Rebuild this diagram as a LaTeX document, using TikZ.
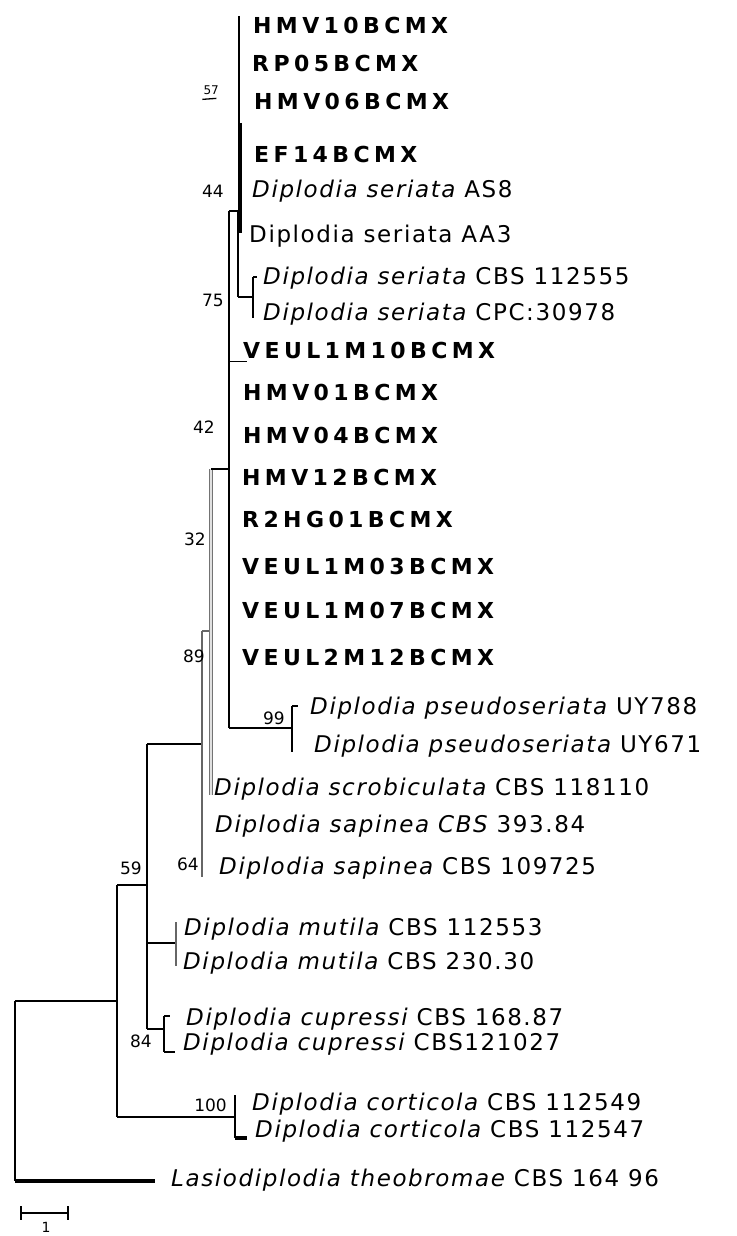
\documentclass[tikz,border=0pt]{standalone}
\usepackage{fontspec}
\setmainfont{DejaVu Sans}
\newfontfamily\isofont[LetterSpace=20]{DejaVu Sans}
\newfontfamily\taxfont[LetterSpace=7]{DejaVu Sans}
\usetikzlibrary{calc}

\begin{document}
\begin{tikzpicture}[
  x=1pt, y=-1pt,
  isolate/.style={anchor=base west, inner sep=0pt,
    font=\isofont\fontsize{22}{24}\selectfont\bfseries},
  taxon/.style={anchor=base west, inner sep=0pt,
    font=\taxfont\fontsize{23}{25}\selectfont},
  boot/.style={anchor=base east, inner sep=0pt,
    font=\fontsize{17}{19}\selectfont},
  branch/.style={line width=1.6pt},
  heavy/.style={line width=3.4pt},
  pale/.style={line width=1.4pt, black!60},
  hollow/.style={line width=1.3pt, draw=black!55, double=black!12,
    double distance=1.6pt}
]
\useasboundingbox (0,0) rectangle (736,1236);

% Internal nodes
\coordinate (r-t) at (15,1001);   \coordinate (r-b) at (15,1181);
\coordinate (n1-t) at (117,885);  \coordinate (n1-b) at (117,1117);
\coordinate (n2-t) at (147,744);  \coordinate (n2-b) at (147,1029);
\coordinate (n3-t) at (202,631);  \coordinate (n3-b) at (202,877);
\coordinate (n4-t) at (211,469);  \coordinate (n4-b) at (211,795);
\coordinate (n5-t) at (229,211);  \coordinate (n5-b) at (229,728);
\coordinate (n6-t) at (238,211);  \coordinate (n6-b) at (238,297);
\coordinate (n7-t) at (240,123);  \coordinate (n7-b) at (240,233);
\coordinate (n8-t) at (239,16);
\coordinate (ser) at (253,297);   \coordinate (ser-t) at (253,277);
\coordinate (ser-b) at (253,318);
\coordinate (ps) at (292,728);    \coordinate (ps-t) at (292,706);
\coordinate (ps-b) at (292,752);
\coordinate (mut) at (176,943);   \coordinate (mut-t) at (176,922);
\coordinate (mut-b) at (176,966);
\coordinate (cup) at (164,1029);  \coordinate (cup-t) at (164,1016);
\coordinate (cup-b) at (164,1052);
\coordinate (cor) at (235,1117);  \coordinate (cor-t) at (235,1095);
\coordinate (cor-b) at (235,1138);
\coordinate (lasio-tip) at (155,1181);
\coordinate (veul-tip) at (247,361);

% Root and outgroup
\draw[branch] (r-t) -- (r-b);
\draw[heavy] (r-b) -- (lasio-tip);
\draw[branch] (r-t) -- (r-t -| n1-t);
\draw[branch] (n1-t) -- (n1-b);

% Corticola
\draw[branch] (n1-b) -- (cor);
\draw[branch] (cor-t) -- (cor-b);
\draw[heavy] (cor-b) -- ++(12,0);

% Mutila and cupressi
\draw[branch] (n1-t) -- (n1-t -| n2-t);
\draw[branch] (n2-t) -- (n2-b);
\draw[line width=2.6pt] (mut -| n2-t) -- (mut);
\draw[line width=2.2pt, black!60] (mut-t) -- (mut-b);
\draw[branch] (n2-b) -- (cup);
\draw[branch] (cup-t) -- (cup-b);
\draw[branch] (cup-t) -- ++(6,0);
\draw[branch] (cup-b) -- ++(11,0);

% Sapinea / scrobiculata
\draw[branch] (n2-t) -- (n2-t -| n3-t);
\draw[pale] (n3-t) -- (n3-b);
\draw[pale] (n3-t) -- (n3-t -| n4-t);
\draw[hollow] (n4-t) -- (n4-b);

% Seriata clade
\draw[branch] (n4-t) -- (n4-t -| n5-t);
\draw[line width=2.6pt] (n5-t) -- (n5-b);
\draw[branch] (n5-t) -- (n6-t);
\draw[branch] (n6-t) -- (n6-b);
\draw[branch] (n6-b) -- (ser);
\draw[branch] (ser-t) -- (ser-b);
\draw[branch] (ser-t) -- ++(4,0);
\draw[branch] (n8-t) -- (n8-t |- n7-t);
\draw[heavy] (n7-t) -- (n7-b);
\draw[line width=1pt] (veul-tip -| n5-t) -- (veul-tip);

% Pseudoseriata
\draw[branch] (n5-b) -- (ps);
\draw[branch] (ps-t) -- (ps-b);
\draw[branch] (ps-t) -- ++(6,0);

% Isolates
\node[isolate] (hmv10) at (253,34) {HMV10BCMX};
\node[isolate] (rp05) at (252,72) {RP05BCMX};
\node[isolate] (hmv06) at (254,110) {HMV06BCMX};
\node[isolate] (ef14) at (254,162) {EF14BCMX};
\node[isolate] (veul1m10) at (243,358) {VEUL1M10BCMX};
\node[isolate] (hmv01) at (243,400) {HMV01BCMX};
\node[isolate] (hmv04) at (243,443) {HMV04BCMX};
\node[isolate] (hmv12) at (242,485) {HMV12BCMX};
\node[isolate] (r2hg01) at (242,527) {R2HG01BCMX};
\node[isolate] (veul1m03) at (242,574) {VEUL1M03BCMX};
\node[isolate] (veul1m07) at (242,618) {VEUL1M07BCMX};
\node[isolate] (veul2m12) at (242,665) {VEUL2M12BCMX};

% Reference taxa
\node[taxon] (as8) at (252,197) {\itshape Diplodia seriata \upshape AS8};
\node[taxon] (aa3) at (249,242) {Diplodia seriata AA3};
\node[taxon] (cbs112555) at (263,284) {{\itshape Diplodia seriata} CBS 112555};
\node[taxon] (cpc30978) at (263,320) {{\itshape Diplodia seriata} CPC:30978};
\node[taxon] (uy788) at (310,714) {{\itshape Diplodia pseudoseriata} UY788};
\node[taxon] (uy671) at (314,752) {{\itshape Diplodia pseudoseriata} UY671};
\node[taxon] (scrob) at (214,795) {{\itshape Diplodia scrobiculata} CBS 118110};
\node[taxon] (sap39384) at (215,832) {{\itshape Diplodia sapinea CBS} 393.84};
\node[taxon] (sap109725) at (219,874) {{\itshape Diplodia sapinea} CBS 109725};
\node[taxon] (mut112553) at (184,935) {{\itshape Diplodia mutila} CBS 112553};
\node[taxon] (mut23030) at (183,969) {{\itshape Diplodia mutila} CBS 230.30};
\node[taxon] (cup16887) at (186,1025) {{\itshape Diplodia cupressi} CBS 168.87};
\node[taxon] (cup121027) at (183,1050) {{\itshape Diplodia cupressi} CBS121027};
\node[taxon] (cor112549) at (252,1110) {{\itshape Diplodia corticola} CBS 112549};
\node[taxon] (cor112547) at (255,1137) {{\itshape Diplodia corticola} CBS 112547};
\node[taxon] (lasio) at (171,1186) {{\itshape Lasiodiplodia theobromae} CBS 164 96};

% Bootstrap values
\node[boot, font=\fontsize{12}{13}\selectfont] (b57) at (219,95) {57};
\draw[line width=1.3pt] (b57.south west) ++(-1,4) -- ++(14,-1);
\node[boot] (b44) at (224,197) {44};
\node[boot] (b75) at (224,306) {75};
\node[boot] (b42) at (215,433) {42};
\node[boot] (b32) at (206,545) {32};
\node[boot] (b89) at (205,662) {89};
\node[boot] (b99) at (285,724) {99};
\node[boot] (b64) at (199,870) {64};
\node[boot] (b59) at (142,874) {59};
\node[boot] (b84) at (152,1047) {84};
\node[boot] (b100) at (227,1111) {100};

% Scale bar
\coordinate (sb-l) at (21,1213);
\coordinate (sb-r) at (68,1213);
\draw[branch] (sb-l) -- (sb-r);
\draw[branch] (sb-l) ++(0,-7) -- ++(0,14);
\draw[branch] (sb-r) ++(0,-7) -- ++(0,14);
\node[boot, anchor=north, font=\fontsize{14}{15}\selectfont] (sb-lab) at (46,1222) {1};

\end{tikzpicture}
\end{document}
